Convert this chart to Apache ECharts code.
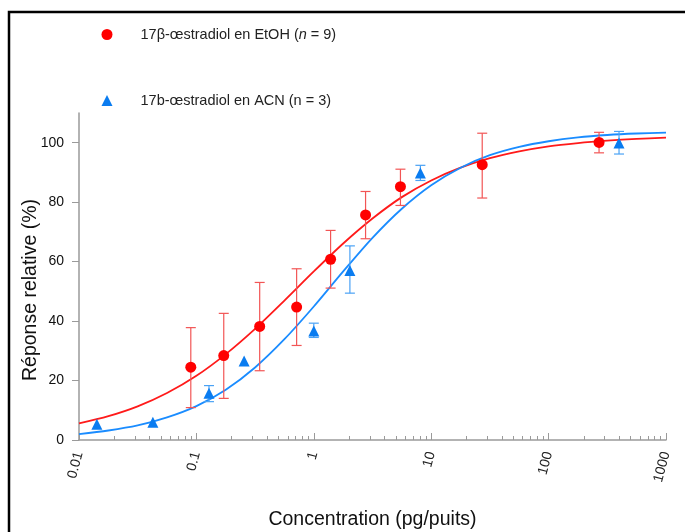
<!DOCTYPE html>
<html><head><meta charset="utf-8">
<script src="https://cdn.jsdelivr.net/npm/echarts@6/dist/echarts.min.js"></script>
<style>html,body{margin:0;padding:0;background:#fff}#c{width:685px;height:532px}</style>
</head><body><div id="c"></div>
<script>
// ---- data ----
const redName = '17β-œstradiol en EtOH (n = 9)';
const blueName = '17b-œstradiol en ACN (n = 3)';

const redX  = [0.0896, 0.171, 0.346, 0.714, 1.39, 2.76, 5.47, 27.2, 269];
const redY  = [24.5, 28.4, 38.2, 44.7, 60.8, 75.7, 85.2, 92.6, 100.1];
const redLo = [10.9, 14.0, 23.3, 31.8, 51.1, 67.7, 78.9, 81.4, 96.6];
const redHi = [37.8, 42.6, 53.0, 57.6, 70.5, 83.6, 91.1, 103.2, 103.5];

const blueX  = [0.0142, 0.0426, 0.128, 0.255, 1.0, 2.03, 8.09, 398];
const blueY  = [5.3, 6.0, 15.7, 26.6, 36.7, 57.0, 89.8, 99.9];
const blueLo = [5.3, 6.0, 12.9, 26.6, 34.5, 49.4, 87.3, 96.2];
const blueHi = [5.3, 6.0, 18.3, 26.6, 39.3, 65.3, 92.4, 103.8];

// fitted curves
const curveX = [0.01, 0.0178, 0.0316, 0.0562, 0.1, 0.178, 0.316, 0.562, 1, 1.78, 3.16, 5.62, 10, 17.8, 31.6, 56.2, 100, 178, 316, 562, 1000];
const redCurve  = [5.6, 8.0, 11.3, 15.8, 21.6, 28.9, 37.4, 46.9, 56.7, 66.1, 74.5, 81.7, 87.3, 91.6, 94.8, 97.1, 98.8, 99.9, 100.7, 101.3, 101.7];
const blueCurve = [2.0, 3.2, 4.9, 7.6, 11.4, 16.9, 24.4, 33.9, 44.9, 56.7, 68.0, 77.8, 85.7, 91.6, 95.8, 98.6, 100.5, 101.8, 102.6, 103.1, 103.4];

const xMajorTicks = [0.01, 0.1, 1, 10, 100, 1000];
const xMinorTicks = [0.02,0.03,0.04,0.05,0.06,0.07,0.08,0.09, 0.2,0.3,0.4,0.5,0.6,0.7,0.8,0.9, 2,3,4,5,6,7,8,9, 20,30,40,50,60,70,80,90, 200,300,400,500,600,700,800,900];
const yTicks = [0, 20, 40, 60, 80, 100];

// ---- chart ----
const FONT = '"Liberation Sans", Arial, sans-serif';
const RED = '#ff0000', RED_LINE = '#ff1a1a', RED_ERR = '#f25555';
const BLUE = '#0a7cf0', BLUE_LINE = '#1a8cff', BLUE_ERR = '#4aa2f5';

function zip(a, b) { return a.map((v, i) => [v, b[i]]); }
function zip3(a, b, c) { return a.map((v, i) => [v, b[i], c[i]]); }

function errRender(color) {
  return function (params, api) {
    const x = api.value(0), lo = api.value(1), hi = api.value(2);
    if (hi - lo < 0.01) return null;
    const a = api.coord([x, lo]), b = api.coord([x, hi]);
    const hw = 5;
    const st = { stroke: color, lineWidth: 1.2 };
    return { type: 'group', children: [
      { type: 'line', shape: { x1: a[0], y1: a[1], x2: b[0], y2: b[1] }, style: st },
      { type: 'line', shape: { x1: a[0] - hw, y1: a[1], x2: a[0] + hw, y2: a[1] }, style: st },
      { type: 'line', shape: { x1: b[0] - hw, y1: b[1], x2: b[0] + hw, y2: b[1] }, style: st }
    ]};
  };
}

const chart = echarts.init(document.getElementById('c'), null, { renderer: 'canvas' });
chart.setOption({
  animation: false,
  backgroundColor: '#fff',
  textStyle: { fontFamily: FONT },
  grid: { left: 79, right: 19, top: 113, bottom: 92, containLabel: false, outerBoundsMode: 'none' },
  legend: {
    orient: 'vertical',
    left: 96.5, top: 22,
    itemWidth: 11, itemHeight: 11, itemGap: 51,
    data: [redName, blueName],
    formatter: function (name) {
      return name === redName
        ? '{a|17β-œstradiol en EtOH (}{i|n}{a| = 9)}'
        : '{a|17b-œstradiol en ACN (n = 3)}';
    },
    textStyle: {
      padding: [0, 0, 0, 23],
      rich: {
        a: { fontSize: 14.5, color: '#222', fontFamily: FONT, lineHeight: 18 },
        i: { fontSize: 14.5, color: '#222', fontFamily: FONT, fontStyle: 'italic', lineHeight: 18 }
      }
    }
  },
  xAxis: [{
    type: 'log', logBase: 10, min: 0.01, max: 1000,
    name: 'Concentration (pg/puits)', nameLocation: 'middle', nameGap: 70,
    nameTextStyle: { fontSize: 19.5, color: '#111', fontFamily: FONT },
    axisLine: { show: true, lineStyle: { color: '#9a9a9a', width: 1.5 } },
    axisTick: { show: true, inside: true, length: 7, customValues: xMajorTicks, lineStyle: { color: '#9a9a9a', width: 1 } },
    axisLabel: { show: true, rotate: 75, margin: 12, customValues: xMajorTicks, fontSize: 14, color: '#222', fontFamily: FONT,
      formatter: function (v) { return String(+v.toPrecision(6)); } },
    splitLine: { show: false }, minorTick: { show: false }
  }, {
    type: 'log', logBase: 10, min: 0.01, max: 1000, position: 'bottom',
    axisLine: { show: false },
    axisTick: { show: true, inside: true, length: 4, customValues: xMinorTicks, lineStyle: { color: '#9a9a9a', width: 1 } },
    axisLabel: { show: false },
    splitLine: { show: false }
  }],
  yAxis: {
    type: 'value', min: 0, max: 110,
    axisLine: { show: true, lineStyle: { color: '#9a9a9a', width: 1.5 } },
    axisTick: { show: true, length: 7, customValues: yTicks, lineStyle: { color: '#9a9a9a', width: 1 } },
    axisLabel: { show: true, margin: 15, customValues: yTicks, fontSize: 14, color: '#111', fontFamily: FONT },
    splitLine: { show: false }
  },
  graphic: [
    { type: 'rect', silent: true, shape: { x: 9, y: 12, width: 720, height: 560 },
      style: { fill: 'none', stroke: '#000', lineWidth: 2.5 } },
    { type: 'text', silent: true, x: 31, y: 290, rotation: Math.PI / 2,
      style: { text: 'Réponse relative (%)', fontSize: 19.5, fill: '#111', fontFamily: FONT, align: 'center', verticalAlign: 'middle' } }
  ],
  series: [
    { type: 'line', name: 'redFit', data: zip(curveX, redCurve), smooth: 0.3, showSymbol: false,
      lineStyle: { color: RED_LINE, width: 1.8 }, itemStyle: { color: RED_LINE }, z: 2 },
    { type: 'line', name: 'blueFit', data: zip(curveX, blueCurve), smooth: 0.3, showSymbol: false,
      lineStyle: { color: BLUE_LINE, width: 1.8 }, itemStyle: { color: BLUE_LINE }, z: 2 },
    { type: 'custom', name: 'redErr', renderItem: errRender(RED_ERR), data: zip3(redX, redLo, redHi),
      encode: { x: 0, y: [1, 2] }, z: 3 },
    { type: 'custom', name: 'blueErr', renderItem: errRender(BLUE_ERR), data: zip3(blueX, blueLo, blueHi),
      encode: { x: 0, y: [1, 2] }, z: 3 },
    { type: 'scatter', name: redName, data: zip(redX, redY), symbol: 'circle', symbolSize: 11,
      itemStyle: { color: RED, opacity: 1 }, z: 4 },
    { type: 'scatter', name: blueName, data: zip(blueX, blueY), symbol: 'triangle', symbolSize: 11,
      itemStyle: { color: BLUE, opacity: 1 }, z: 4 }
  ]
});
</script>
</body></html>
